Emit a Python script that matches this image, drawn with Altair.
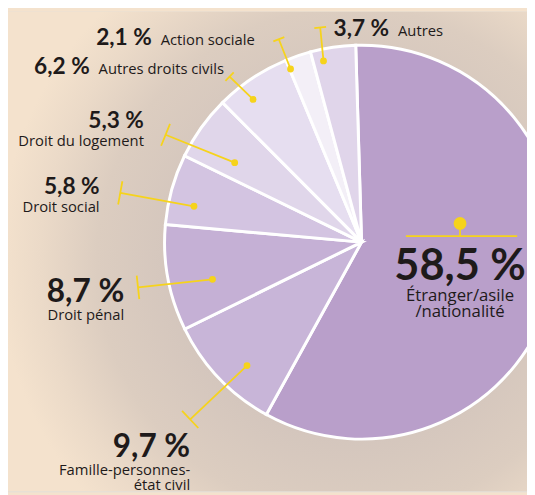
import math
import altair as alt
import pandas as pd

# ---------------- data ----------------
categories = [
    "Étranger/asile/nationalité",
    "Famille-personnes-état civil",
    "Droit pénal",
    "Droit social",
    "Droit du logement",
    "Autres droits civils",
    "Action sociale",
    "Autres",
]
shares = [58.5, 9.7, 8.7, 5.8, 5.3, 6.2, 2.1, 3.7]
label_lines = [
    "Étranger/asile\n/nationalité",
    "Famille-personnes-\nétat civil",
    "Droit pénal",
    "Droit social",
    "Droit du logement",
    "Autres droits civils",
    "Action sociale",
    "Autres",
]
colors = ["#b99fca", "#c8b5d8", "#c5b0d5", "#d3c4e1", "#e0d6ea", "#e6def0", "#f3eff7", "#e0d5ea"]

# ---------------- layout ----------------
W, H = 527, 487
CX, CY = 359, 234
R = 200
ROT = math.radians(-1.7)
DOT_SHIFT = math.radians(-3.5)
YELLOW = "#f6d31b"
INK = "#1e1a1a"

# per category: dot radius, leader end (dx,dy), tick half length,
# label anchor (dx,dy), style ("side" = number right / name left, "stack" = number above name)
layout = {
    "Famille-personnes-état civil": dict(r=171, end=(-174, 180), tick=12, anchor=(-174, 218), style="stack", fs=32),
    "Droit pénal": dict(r=156, end=(-227, 46), tick=12, anchor=(-241, 61), style="stack", fs=32),
    "Droit social": dict(r=174, end=(-245, -50), tick=12, anchor=(-266, -49), style="stack", fs=23),
    "Droit du logement": dict(r=152, end=(-199, -109), tick=12, anchor=(-221, -116), style="stack", fs=23),
    "Autres droits civils": dict(r=182, end=(-134, -168), tick=6, anchor=(-267, -171), style="side", fs=23),
    "Action sociale": dict(r=190, end=(-84, -206), tick=6, anchor=(-204, -200), style="side", fs=23),
    "Autres": dict(r=188, end=(-42, -218), tick=6, anchor=(37, -209), style="side", fs=23),
}
main_anchor = (100, 38)       # big label of the main slice
main_dot = (100, -19)
main_bar_y = -6
main_bar_x = (45, 158)
LABEL_FS = 15

def num_text(v):
    return f"{v:.1f}".replace(".", ",") + " %"

pie_df = pd.DataFrame({"cat": categories, "value": shares, "idx": list(range(len(categories)))})

# leader geometry derived from the slice angles
dots, segs, ticks = [], [], []
texts = []  # x, y, text, align, fs, bold
cum = 0.0
total = sum(shares)
for cat, v, lab in zip(categories, shares, label_lines):
    mid = ROT + 2 * math.pi * (cum + v / 2) / total
    cum += v
    if cat not in layout:
        continue
    L = layout[cat]
    th = mid + DOT_SHIFT
    dx, dy = CX + L["r"] * math.sin(th), CY - L["r"] * math.cos(th)
    ex, ey = CX + L["end"][0], CY + L["end"][1]
    dots.append(dict(x=dx, y=dy, s=48))
    segs.append(dict(x=dx, y=dy, x2=ex, y2=ey))
    ux, uy = ex - dx, ey - dy
    n = math.hypot(ux, uy)
    px, py = -uy / n, ux / n
    h = L["tick"]
    ticks.append(dict(x=ex - h * px, y=ey - h * py, x2=ex + h * px, y2=ey + h * py))
    ax, ay = CX + L["anchor"][0], CY + L["anchor"][1]
    if L["style"] == "side":
        texts.append(dict(x=ax - 9, y=ay, text=num_text(v), align="right", fs=L["fs"], bold=True))
        texts.append(dict(x=ax, y=ay, text=lab, align="left", fs=LABEL_FS, bold=False))
    else:
        texts.append(dict(x=ax, y=ay, text=num_text(v), align="right", fs=L["fs"], bold=True))
        texts.append(dict(x=ax, y=ay + 18, text=lab, align="right", fs=LABEL_FS, bold=False))

# main slice marker
mx, my = CX + main_dot[0], CY + main_dot[1]
dots.append(dict(x=mx, y=my, s=170))
segs.append(dict(x=mx, y=my, x2=mx, y2=CY + main_bar_y))
segs.append(dict(x=CX + main_bar_x[0], y=CY + main_bar_y, x2=CX + main_bar_x[1], y2=CY + main_bar_y))
texts.append(dict(x=CX + main_anchor[0], y=CY + main_anchor[1], text=num_text(shares[0]), align="center", fs=44, bold=True))
texts.append(dict(x=CX + main_anchor[0], y=CY + main_anchor[1] + 22, text=label_lines[0], align="center", fs=17, bold=False))

dots_df = pd.DataFrame(dots)
segs_df = pd.DataFrame(segs + ticks)
texts_df = pd.DataFrame(texts)

px_x = lambda f: alt.X(f, type="quantitative", scale=None, axis=None)
px_y = lambda f: alt.Y(f, type="quantitative", scale=None, axis=None)

# ---------------- background ----------------
bg = alt.Chart(pd.DataFrame({"a": [0]})).mark_rect(
    fill=alt.RadialGradient(
        gradient="radial",
        x1=0.66, y1=0.52, r1=0,
        x2=0.66, y2=0.52, r2=0.68,
        stops=[
            alt.GradientStop(offset=0, color="#cbbdbc"),
            alt.GradientStop(offset=0.5, color="#d4c6bd"),
            alt.GradientStop(offset=0.72, color="#dccdc0"),
            alt.GradientStop(offset=0.88, color="#ebdac8"),
            alt.GradientStop(offset=1, color="#f4e2cd"),
        ],
    )
).encode(x=alt.value(0), x2=alt.value(W), y=alt.value(0), y2=alt.value(H))

pie = alt.Chart(pie_df).mark_arc(radius=R, stroke="white", strokeWidth=3).encode(
    theta=alt.Theta("value:Q", stack=True,
                    scale=alt.Scale(range=[ROT, ROT + 2 * math.pi])),
    order=alt.Order("idx:Q"),
    color=alt.Color("cat:N", scale=alt.Scale(domain=categories, range=colors), legend=None),
    x=alt.value(CX),
    y=alt.value(CY),
)

lines = alt.Chart(segs_df).mark_rule(color=YELLOW, strokeWidth=1.8).encode(
    x=px_x("x"), y=px_y("y"), x2="x2", y2="y2"
)
pts = alt.Chart(dots_df).mark_circle(color=YELLOW, opacity=1).encode(
    x=px_x("x"), y=px_y("y"), size=alt.Size("s:Q", scale=None, legend=None)
)

def text_layer(align, bold):
    sub = texts_df[(texts_df["align"] == align) & (texts_df["bold"] == bold)]
    return alt.Chart(sub).mark_text(
        align=align, baseline="alphabetic",
        font="Lato" if bold else "Open Sans",
        fontWeight="bold" if bold else "normal", color=INK, lineBreak="\n",
        lineHeight=16,
    ).encode(
        x=px_x("x"), y=px_y("y"), text="text:N",
        size=alt.Size("fs:Q", scale=None, legend=None),
    )

layers = [bg, pie, lines, pts]
for al in ["left", "right", "center"]:
    for b in [True, False]:
        if ((texts_df["align"] == al) & (texts_df["bold"] == b)).any():
            layers.append(text_layer(al, b))

chart = alt.layer(*layers).properties(
    width=W, height=H, padding=0,
    autosize=alt.AutoSizeParams(type="none"),
).configure_view(stroke=None).configure(background="#f4e2cd")

chart.save("out.html", embed_options={"renderer": "svg", "actions": False})
